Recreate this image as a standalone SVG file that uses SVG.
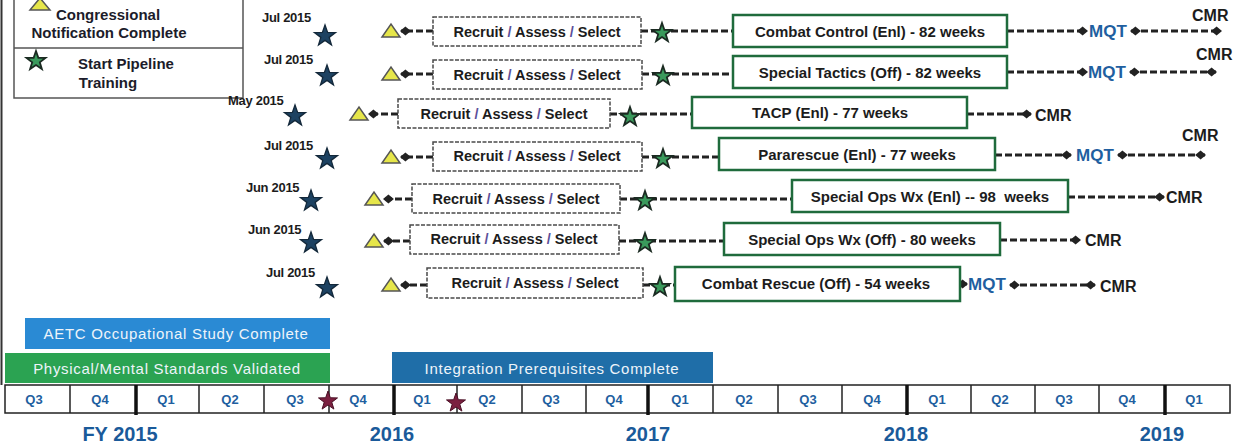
<svg xmlns="http://www.w3.org/2000/svg" width="1233" height="445" viewBox="0 0 1233 445">
<style>
text{font-family:"Liberation Sans",Arial,sans-serif;font-weight:bold;}
.date{font-size:13px;fill:#1c1c1c;letter-spacing:-0.3px;}
.rbox{fill:#fff;stroke:#4a4a4a;stroke-width:1.5;stroke-dasharray:4 1.5;}
.gbox{fill:#fff;stroke:#1f6b3c;stroke-width:2.5;}
.rtxt{font-size:14.5px;fill:#1c1c1c;}
.sl{fill:#5b4f9a;}
.gtxt{font-size:15px;fill:#1c1c1c;white-space:pre;}
.mqt{font-size:17px;fill:#1f5fa0;}
.cmr{font-size:16px;fill:#1c1c1c;}
.dash{stroke:#222;stroke-width:3;stroke-dasharray:7 3;fill:none;}
.tri{fill:#e6e64a;stroke:#555;stroke-width:1.5;}
.bstar{fill:#1d4262;stroke:#13283a;stroke-width:1.2;}
.gstar{fill:#3a9a5c;stroke:#1b2b22;stroke-width:1.8;}
.mstar{fill:#7b2040;stroke:#4a1025;stroke-width:1;}
.cell{fill:#fff;stroke:#222;stroke-width:1.5;}
.q{font-size:13px;fill:#1f5fa0;text-anchor:middle;}
.yr{font-size:20px;fill:#1a5a9a;text-anchor:middle;}
.bar{font-weight:normal;font-size:15px;fill:#eef4fa;letter-spacing:0.7px;text-anchor:middle;}
.leg{font-size:15px;fill:#1c1c2a;text-anchor:middle;}
</style>
<defs>
<path id="star" d="M0,-10 L2.35,-3.24 L9.51,-3.09 L3.8,1.24 L5.88,8.09 L0,4 L-5.88,8.09 L-3.8,1.24 L-9.51,-3.09 L-2.35,-3.24 Z"/>
<marker id="dia" viewBox="0 -5 10 10" refX="9" refY="0" markerWidth="11" markerHeight="11" markerUnits="userSpaceOnUse" orient="auto-start-reverse">
<path d="M0,0 L5,-4 L10,0 L5,4 Z" fill="#222"/>
</marker>
</defs>
<rect x="0" y="0" width="1233" height="445" fill="#fff"/>
<line x1="1.5" y1="0" x2="1.5" y2="385" stroke="#333" stroke-width="2"/>

<g id="legend">
<rect x="14" y="-2" width="229" height="100" fill="#fff" stroke="#555" stroke-width="1.5"/>
<line x1="14" y1="48" x2="243" y2="48" stroke="#555" stroke-width="1.5"/>
<polygon class="tri" points="30,10 50,10 40,-2"/>
<text class="leg" x="108" y="20">Congressional</text>
<text class="leg" x="109" y="38">Notification Complete</text>
<use href="#star" class="gstar" transform="translate(36,61)"/>
<text class="leg" x="126" y="69">Start Pipeline</text>
<text class="leg" x="108" y="88">Training</text>
</g>

<g id="connectors">
<!-- row 1 -->
<line class="dash" x1="433" y1="31" x2="401" y2="31" marker-end="url(#dia)"/>
<line class="dash" x1="641" y1="31" x2="733" y2="31"/>
<line class="dash" x1="1007" y1="31" x2="1087" y2="31" marker-end="url(#dia)"/>
<line class="dash" x1="1131" y1="31" x2="1221" y2="31" marker-start="url(#dia)" marker-end="url(#dia)"/>
<!-- row 2 -->
<line class="dash" x1="433" y1="74" x2="401" y2="74" marker-end="url(#dia)"/>
<line class="dash" x1="642" y1="74" x2="733" y2="74"/>
<line class="dash" x1="1007" y1="72" x2="1087" y2="72" marker-end="url(#dia)"/>
<line class="dash" x1="1130" y1="72" x2="1216" y2="72" marker-start="url(#dia)" marker-end="url(#dia)"/>
<!-- row 3 -->
<line class="dash" x1="398" y1="114" x2="369" y2="114" marker-end="url(#dia)"/>
<line class="dash" x1="610" y1="114" x2="692" y2="114"/>
<line class="dash" x1="967" y1="114" x2="1031" y2="114" marker-end="url(#dia)"/>
<!-- row 4 -->
<line class="dash" x1="433" y1="157" x2="401" y2="157" marker-end="url(#dia)"/>
<line class="dash" x1="642" y1="157" x2="719" y2="157"/>
<line class="dash" x1="995" y1="155" x2="1071" y2="155" marker-end="url(#dia)"/>
<line class="dash" x1="1118" y1="155" x2="1205" y2="155" marker-start="url(#dia)" marker-end="url(#dia)"/>
<!-- row 5 -->
<line class="dash" x1="412" y1="199" x2="384" y2="199" marker-end="url(#dia)"/>
<line class="dash" x1="620" y1="199" x2="792" y2="199"/>
<line class="dash" x1="1068" y1="197" x2="1164" y2="197" marker-end="url(#dia)"/>
<!-- row 6 -->
<line class="dash" x1="410" y1="241" x2="384" y2="241" marker-end="url(#dia)"/>
<line class="dash" x1="619" y1="241" x2="724" y2="241"/>
<line class="dash" x1="1000" y1="240" x2="1080" y2="240" marker-end="url(#dia)"/>
<!-- row 7 -->
<line class="dash" x1="427" y1="285" x2="401" y2="285" marker-end="url(#dia)"/>
<line class="dash" x1="643" y1="285" x2="675" y2="285"/>
<line class="dash" x1="960" y1="284" x2="967" y2="284" marker-end="url(#dia)"/>
<line class="dash" x1="1010" y1="285" x2="1095" y2="285" marker-start="url(#dia)" marker-end="url(#dia)"/>
</g>

<g id="row1">
<text class="date" x="262" y="22">Jul 2015</text>
<use href="#star" class="bstar" transform="translate(325,36) scale(1.1)"/>
<polygon class="tri" points="382,37 400,37 391,24"/>
<rect class="rbox" x="433" y="17" width="208" height="29"/>
<text class="rtxt" x="537" y="37" text-anchor="middle">Recruit <tspan class="sl">/</tspan> Assess <tspan class="sl">/</tspan> Select</text>
<use href="#star" class="gstar" transform="translate(662,33)"/>
<rect class="gbox" x="733" y="15" width="274" height="32"/>
<text class="gtxt" x="870" y="37" text-anchor="middle">Combat Control (Enl) - 82 weeks</text>
<text class="mqt" x="1089" y="37">MQT</text>
<text class="cmr" x="1192" y="21">CMR</text>
</g>

<g id="row2">
<text class="date" x="264" y="64">Jul 2015</text>
<use href="#star" class="bstar" transform="translate(327,76) scale(1.1)"/>
<polygon class="tri" points="382,80 400,80 391,67"/>
<rect class="rbox" x="433" y="60" width="209" height="29"/>
<text class="rtxt" x="537" y="80" text-anchor="middle">Recruit <tspan class="sl">/</tspan> Assess <tspan class="sl">/</tspan> Select</text>
<use href="#star" class="gstar" transform="translate(663,76)"/>
<rect class="gbox" x="733" y="56" width="274" height="32"/>
<text class="gtxt" x="870" y="78" text-anchor="middle">Special Tactics (Off) - 82 weeks</text>
<text class="mqt" x="1088" y="78">MQT</text>
<text class="cmr" x="1196" y="60">CMR</text>
</g>

<g id="row3">
<text class="date" x="228" y="105">May 2015</text>
<use href="#star" class="bstar" transform="translate(295,116) scale(1.1)"/>
<polygon class="tri" points="350,120 368,120 359,107"/>
<rect class="rbox" x="398" y="99" width="212" height="29"/>
<text class="rtxt" x="504" y="119" text-anchor="middle">Recruit <tspan class="sl">/</tspan> Assess <tspan class="sl">/</tspan> Select</text>
<use href="#star" class="gstar" transform="translate(630,117)"/>
<rect class="gbox" x="692" y="97" width="275" height="31"/>
<text class="gtxt" x="830" y="118" text-anchor="middle">TACP (Enl) - 77 weeks</text>
<text class="cmr" x="1035" y="121">CMR</text>
</g>

<g id="row4">
<text class="date" x="264" y="150">Jul 2015</text>
<use href="#star" class="bstar" transform="translate(327,159) scale(1.1)"/>
<polygon class="tri" points="382,163 400,163 391,150"/>
<rect class="rbox" x="433" y="142" width="209" height="29"/>
<text class="rtxt" x="537" y="161" text-anchor="middle">Recruit <tspan class="sl">/</tspan> Assess <tspan class="sl">/</tspan> Select</text>
<use href="#star" class="gstar" transform="translate(663,159)"/>
<rect class="gbox" x="719" y="138" width="276" height="32"/>
<text class="gtxt" x="857" y="160" text-anchor="middle">Pararescue (Enl) - 77 weeks</text>
<text class="mqt" x="1076" y="161">MQT</text>
<text class="cmr" x="1182" y="141">CMR</text>
</g>

<g id="row5">
<text class="date" x="246" y="192">Jun 2015</text>
<use href="#star" class="bstar" transform="translate(311,201) scale(1.1)"/>
<polygon class="tri" points="365,205 383,205 374,192"/>
<rect class="rbox" x="412" y="184" width="208" height="29"/>
<text class="rtxt" x="516" y="204" text-anchor="middle">Recruit <tspan class="sl">/</tspan> Assess <tspan class="sl">/</tspan> Select</text>
<use href="#star" class="gstar" transform="translate(645,201)"/>
<rect class="gbox" x="792" y="180" width="276" height="32"/>
<text class="gtxt" x="930" y="202" text-anchor="middle">Special Ops Wx (Enl) -- 98  weeks</text>
<text class="cmr" x="1166" y="203">CMR</text>
</g>

<g id="row6">
<text class="date" x="248" y="234">Jun 2015</text>
<use href="#star" class="bstar" transform="translate(311,243) scale(1.1)"/>
<polygon class="tri" points="365,247 383,247 374,234"/>
<rect class="rbox" x="410" y="225" width="209" height="29"/>
<text class="rtxt" x="514" y="244" text-anchor="middle">Recruit <tspan class="sl">/</tspan> Assess <tspan class="sl">/</tspan> Select</text>
<use href="#star" class="gstar" transform="translate(645,243)"/>
<rect class="gbox" x="724" y="223" width="276" height="32"/>
<text class="gtxt" x="862" y="245" text-anchor="middle">Special Ops Wx (Off) - 80 weeks</text>
<text class="cmr" x="1085" y="246">CMR</text>
</g>

<g id="row7">
<text class="date" x="266" y="277">Jul 2015</text>
<use href="#star" class="bstar" transform="translate(327,288) scale(1.1)"/>
<polygon class="tri" points="382,291 400,291 391,278"/>
<rect class="rbox" x="427" y="268" width="216" height="30"/>
<text class="rtxt" x="535" y="288" text-anchor="middle">Recruit <tspan class="sl">/</tspan> Assess <tspan class="sl">/</tspan> Select</text>
<use href="#star" class="gstar" transform="translate(660,287)"/>
<rect class="gbox" x="675" y="267" width="285" height="34"/>
<text class="gtxt" x="816" y="289" text-anchor="middle">Combat Rescue (Off) - 54 weeks</text>
<text class="mqt" x="968" y="290">MQT</text>
<text class="cmr" x="1100" y="292">CMR</text>
</g>

<g id="bars">
<rect x="25" y="318" width="305" height="31" fill="#2a8ad4"/>
<text class="bar" x="176" y="339">AETC Occupational Study Complete</text>
<rect x="5" y="353" width="325" height="30" fill="#2ba352"/>
<text class="bar" x="167" y="374">Physical/Mental Standards Validated</text>
<rect x="392" y="352" width="321" height="31" fill="#1f6ea8"/>
<text class="bar" x="552" y="374">Integration Prerequisites Complete</text>
</g>

<g id="timeline">
<rect class="cell" x="5" y="385" width="1225" height="28"/>
<g stroke="#222" stroke-width="1.5">
<line x1="70" y1="385" x2="70" y2="413"/>
<line x1="199" y1="385" x2="199" y2="413"/>
<line x1="264" y1="385" x2="264" y2="413"/>
<line x1="329" y1="385" x2="329" y2="413"/>
<line x1="457" y1="385" x2="457" y2="413"/>
<line x1="522" y1="385" x2="522" y2="413"/>
<line x1="586" y1="385" x2="586" y2="413"/>
<line x1="713" y1="385" x2="713" y2="413"/>
<line x1="778" y1="385" x2="778" y2="413"/>
<line x1="842" y1="385" x2="842" y2="413"/>
<line x1="971" y1="385" x2="971" y2="413"/>
<line x1="1035" y1="385" x2="1035" y2="413"/>
<line x1="1099" y1="385" x2="1099" y2="413"/>
</g>
<g stroke="#111" stroke-width="3.5">
<line x1="136" y1="385" x2="136" y2="415"/>
<line x1="394" y1="385" x2="394" y2="415"/>
<line x1="648" y1="385" x2="648" y2="415"/>
<line x1="907" y1="385" x2="907" y2="415"/>
<line x1="1165" y1="385" x2="1165" y2="415"/>
</g>
<text class="q" x="34" y="404">Q3</text>
<text class="q" x="100" y="404">Q4</text>
<text class="q" x="166" y="404">Q1</text>
<text class="q" x="230" y="404">Q2</text>
<text class="q" x="295" y="404">Q3</text>
<text class="q" x="358" y="404">Q4</text>
<text class="q" x="422" y="404">Q1</text>
<text class="q" x="487" y="404">Q2</text>
<text class="q" x="551" y="404">Q3</text>
<text class="q" x="614" y="404">Q4</text>
<text class="q" x="680" y="404">Q1</text>
<text class="q" x="744" y="404">Q2</text>
<text class="q" x="808" y="404">Q3</text>
<text class="q" x="872" y="404">Q4</text>
<text class="q" x="937" y="404">Q1</text>
<text class="q" x="1000" y="404">Q2</text>
<text class="q" x="1064" y="404">Q3</text>
<text class="q" x="1127" y="404">Q4</text>
<text class="q" x="1194" y="404">Q1</text>
<use href="#star" class="mstar" transform="translate(328,401)"/>
<use href="#star" class="mstar" transform="translate(456,403)"/>
<text class="yr" x="120" y="441">FY 2015</text>
<text class="yr" x="392" y="441">2016</text>
<text class="yr" x="648" y="441">2017</text>
<text class="yr" x="906" y="441">2018</text>
<text class="yr" x="1162" y="441">2019</text>
</g>
</svg>
